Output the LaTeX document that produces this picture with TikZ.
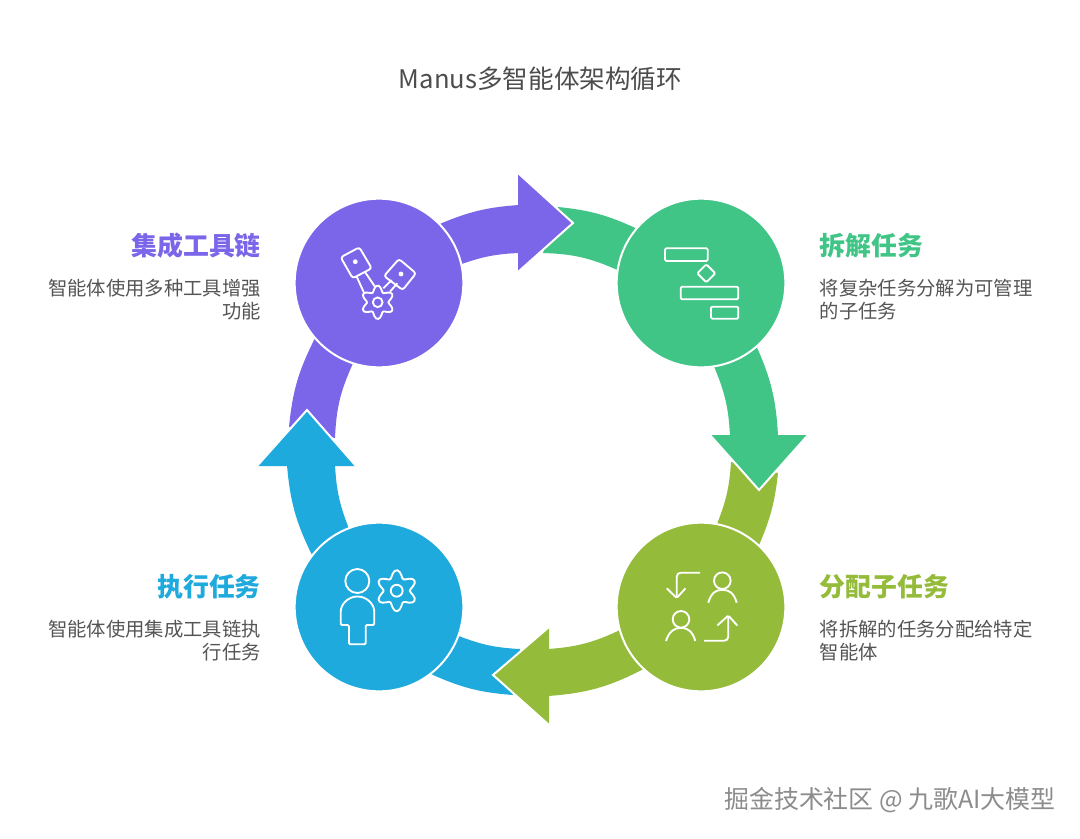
\documentclass[tikz,border=0pt]{standalone}
\usepackage{fontspec}
\setmainfont{Noto Sans CJK SC}
\tikzset{
  hubcircle/.style={circle,draw=white,line width=1.5pt,minimum size=126.5pt,inner sep=0pt},
  iconline/.style={draw=white,line width=1.4pt,rounded corners=1pt},
  headwhite/.style={draw=white,line width=1.5pt,line join=miter},
  headtext/.style={font=\fontsize{19.4pt}{23pt}\selectfont\bfseries},
  desctext/.style={font=\fontsize{14.5pt}{17.4pt}\selectfont,text=desccolor,inner sep=0pt},
}
\newcommand{\gearicon}[3]{%
  \draw[iconline,rounded corners=0pt] plot[smooth cycle,samples=49,domain=0:352.5]
    ({#1+(#3*0.82+#3*0.18*cos(6*(\x-90)))*cos(\x)},{#2-(#3*0.82+#3*0.18*cos(6*(\x-90)))*sin(\x)});
  \draw[iconline] (#1,#2) circle[radius=#3*0.29];
}
\begin{document}
\begin{tikzpicture}[x=0.75pt,y=-0.75pt]
  % Define colors
  \definecolor{toolcolor}{HTML}{7B66E9}
  \definecolor{splitcolor}{HTML}{40C587}
  \definecolor{assigncolor}{HTML}{94BB3A}
  \definecolor{runcolor}{HTML}{1FAADD}
  \definecolor{desccolor}{HTML}{555555}
  \definecolor{titlecolor}{HTML}{4D4D4D}

  \fill[white] (0,0) rectangle (1080,838);
  \useasboundingbox (0,0) rectangle (1080,838);

  \node[font=\fontsize{19.2pt}{23pt}\selectfont,text=titlecolor,inner sep=0pt] (title) at (540.5,79) {Manus多智能体架构循环};

  % Hub positions
  \path (379,283) coordinate (toolpos) (701,283) coordinate (splitpos)
        (701,607) coordinate (assignpos) (379,607) coordinate (runpos);
  \path node[hubcircle] (toolhub) at (toolpos) {} node[hubcircle] (splithub) at (splitpos) {}
        node[hubcircle] (assignhub) at (assignpos) {} node[hubcircle] (runhub) at (runpos) {};

  % Tails that sit under the next arrow head
  \fill[splitcolor] (558,207) to[bend left=9.5] (splithub.140) -- (splithub.171) to[bend right=11] (543,253) -- cycle;
  \fill[assigncolor] (778,473) to[bend left=8.5] (assignhub.47) -- (assignhub.79) to[bend right=9] (731,462) -- cycle;
  \fill[runcolor] (513,695) to[bend left=10] (runhub.-52) -- (runhub.-20) to[bend right=9] (520,649) -- cycle;
  \fill[toolcolor] (289,427) to[bend left=10.6] (toolhub.221) -- (toolhub.252) to[bend right=11] (335,438) -- cycle;

  % Arrow bodies
  \fill[toolcolor] (toolhub.44) to[bend left=9.4] (519,205) -- (519,253) to[bend right=8.3] (toolhub.13) -- cycle;
  \fill[splitcolor] (splithub.-49) to[bend left=10.4] (778,436) -- (730,436) to[bend right=10] (splithub.-81) -- cycle;
  \fill[assigncolor] (assignhub.227) to[bend left=11.5] (548,696) -- (548,649) to[bend right=10.5] (assignhub.196) -- cycle;
  \fill[runcolor] (runhub.142) to[bend left=10.7] (287,465) -- (335,465) to[bend right=9] (runhub.111) -- cycle;

  % Arrow heads, white only on the two front edges
  \fill[toolcolor] (518,173) -- (573,223) -- (518,272) -- cycle;
  \draw[headwhite] (518,173) -- (573,223) -- (518,272);
  \fill[splitcolor] (710,435) -- (759,490) -- (808,435) -- cycle;
  \draw[headwhite] (710,435) -- (759,490) -- (808,435);
  \fill[assigncolor] (549,627) -- (493,675) -- (549,725) -- cycle;
  \draw[headwhite] (549,627) -- (493,675) -- (549,725);
  \fill[runcolor] (257,466) -- (307,410) -- (356,466) -- cycle;
  \draw[headwhite] (257,466) -- (307,410) -- (356,466);

  % Hubs on top
  \node[hubcircle,fill=toolcolor] at (toolpos) {};
  \node[hubcircle,fill=splitcolor] at (splitpos) {};
  \node[hubcircle,fill=assigncolor] at (assignpos) {};
  \node[hubcircle,fill=runcolor] at (runpos) {};

  % Tool icon
  \draw[iconline,rounded corners=2pt] (340.7,257.3) -- (359.3,247.3) -- (371.7,268.3) -- (352.7,278.3) -- cycle;
  \draw[iconline,rounded corners=2pt] (384,276) -- (399,259) -- (416,273.3) -- (402.7,290) -- cycle;
  \fill[white] (355.3,261.7) circle[radius=2.4] (401,274) circle[radius=2.4];
  \draw[iconline] (356.7,276.7) -- (364,292.7) (365,272) -- (375,286.7);
  \draw[iconline] (383.3,288.3) -- (391.7,280) (390,291.7) -- (397.3,283.3);
  \gearicon{377.7}{302.3}{16.7}

  % Split icon
  \draw[iconline] (665,248.3) rectangle (707.7,261);
  \draw[iconline] (706.3,264.3) -- (715.3,273.3) -- (706.3,282.3) -- (697.3,273.3) -- cycle;
  \draw[iconline] (680.7,286.7) rectangle (738.3,299.3);
  \draw[iconline] (711,306.7) rectangle (738.3,318.7);

  % Assign icon
  \draw[iconline,rounded corners=3pt] (700,572.7) -- (676.7,572.7) -- (676.7,597);
  \draw[iconline] (666.7,588.3) -- (676.7,598) -- (685.5,588.3);
  \draw[iconline] (722.3,580.7) circle[radius=8.3];
  \draw[iconline] (708.3,602.7) .. controls (711,593) and (716,590) .. (722.3,590) .. controls (729,590) and (734,593) .. (736.7,602.7);
  \draw[iconline] (681,619.3) circle[radius=8.3];
  \draw[iconline] (666,641) .. controls (669,631) and (675,628) .. (681,628) .. controls (687,628) and (692.5,631) .. (695.3,641);
  \draw[iconline,rounded corners=3pt] (704,640.7) -- (728.3,640.7) -- (728.3,616.5);
  \draw[iconline] (717.3,625.5) -- (728.3,615.5) -- (737.3,625.5);

  % Run icon
  \draw[iconline] (357.3,581) circle[radius=12];
  \draw[iconline] (340.7,625) -- (340.7,613.3) arc[start angle=180,end angle=360,radius=16.8] -- (374.3,625)
    -- (365.7,625) -- (365.7,644.3) -- (349,644.3) -- (349,625) -- cycle;
  \gearicon{396.7}{590.7}{20.5}

  % Labels
  \node[headtext,text=toolcolor,anchor=east,inner sep=0pt] (toollabel) at (261,245.5) {集成工具链};
  \node[desctext,anchor=east,align=right] (tooldesc) at (261,299.5) {智能体使用多种工具增强\\功能};
  \node[headtext,text=splitcolor,anchor=west,inner sep=0pt] (splitlabel) at (819.5,245.5) {拆解任务};
  \node[desctext,anchor=west,align=left] (splitdesc) at (819.5,299.5) {将复杂任务分解为可管理\\的子任务};
  \node[headtext,text=assigncolor,anchor=west,inner sep=0pt] (assignlabel) at (819.5,587) {分配子任务};
  \node[desctext,anchor=west,align=left] (assigndesc) at (819.5,640.5) {将拆解的任务分配给特定\\智能体};
  \node[headtext,text=runcolor,anchor=east,inner sep=0pt] (runlabel) at (261,587) {执行任务};
  \node[desctext,anchor=east,align=right] (rundesc) at (261,640.5) {智能体使用集成工具链执\\行任务};

  \node[font=\fontsize{18.7pt}{22pt}\selectfont,text=black!45,anchor=east,inner sep=0pt] (mark) at (1056,800) {掘金技术社区 @ 九歌AI大模型};
\end{tikzpicture}
\end{document}
